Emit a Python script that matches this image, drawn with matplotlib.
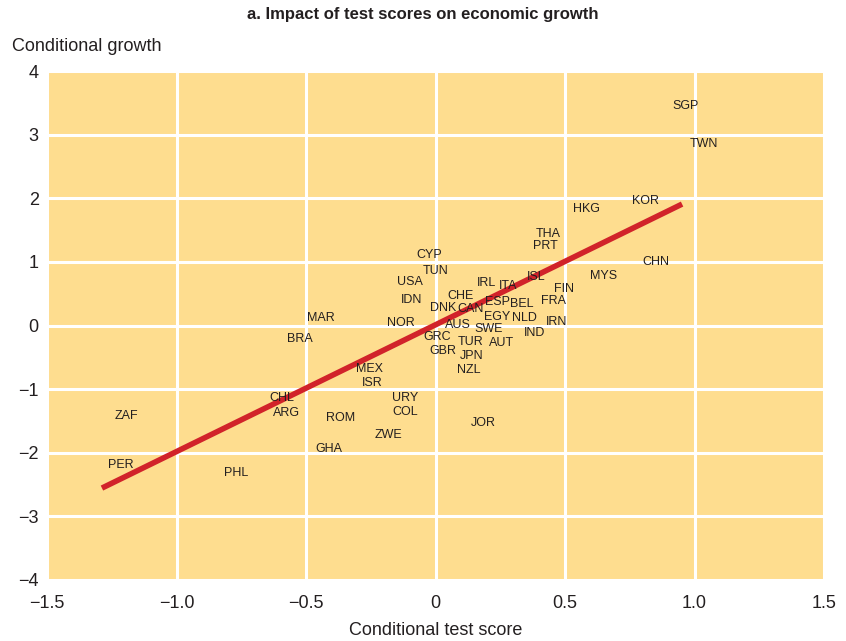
import matplotlib
matplotlib.use("Agg")
import matplotlib.pyplot as plt

# country codes and their (test score, growth) positions
codes = ["SGP", "TWN", "KOR", "HKG", "CHN", "THA", "PRT", "MYS", "ISL", "FIN",
         "FRA", "IRN", "CYP", "TUN", "USA", "IDN", "IRL", "ITA", "CHE", "DNK",
         "CAN", "ESP", "BEL", "EGY", "NLD", "IND", "NOR", "AUS", "SWE", "GRC",
         "TUR", "AUT", "GBR", "JPN", "NZL", "MAR", "BRA", "MEX", "ISR", "CHL",
         "ARG", "URY", "COL", "ROM", "ZWE", "GHA", "JOR", "ZAF", "PER", "PHL"]
score = [0.967, 1.037, 0.809, 0.581, 0.851, 0.434, 0.423, 0.647, 0.388, 0.496,
         0.454, 0.469, -0.025, 0.002, -0.098, -0.091, 0.195, 0.280, 0.095, 0.029,
         0.137, 0.241, 0.334, 0.237, 0.342, 0.384, -0.133, 0.087, 0.203, 0.006,
         0.137, 0.253, 0.029, 0.141, 0.129, -0.442, -0.523, -0.253, -0.245, -0.593,
         -0.577, -0.118, -0.118, -0.365, -0.180, -0.411, 0.183, -1.195, -1.214, -0.770]
growth = [3.45, 2.86, 1.96, 1.83, 1.00, 1.44, 1.25, 0.78, 0.76, 0.57,
          0.38, 0.055, 1.11, 0.86, 0.68, 0.40, 0.67, 0.62, 0.46, 0.28,
          0.26, 0.37, 0.34, 0.13, 0.12, -0.12, 0.04, 0.01, -0.06, -0.18,
          -0.26, -0.28, -0.40, -0.48, -0.70, 0.12, -0.21, -0.68, -0.90, -1.14,
          -1.38, -1.14, -1.36, -1.45, -1.72, -1.94, -1.53, -1.42, -2.19, -2.32]

# fitted line endpoints
fit_x = [-1.288, 0.952]
fit_y = [-2.555, 1.91]

xticks = [-1.5, -1.0, -0.5, 0, 0.5, 1.0, 1.5]
xticklabels = ["\u22121.5", "\u22121.0", "\u22120.5", "0", "0.5", "1.0", "1.5"]
yticks = [-4, -3, -2, -1, 0, 1, 2, 3, 4]
yticklabels = ["\u22124", "\u22123", "\u22122", "\u22121", "0", "1", "2", "3", "4"]

plt.rcParams["font.family"] = ["Liberation Sans", "DejaVu Sans"]

fig = plt.figure(figsize=(8.46, 6.41), dpi=100)
ax = fig.add_axes([0.0556, 0.0952, 0.9184, 0.7938])
ax.set_facecolor("#FEDD8F")
ax.set_xlim(-1.5, 1.5)
ax.set_ylim(-4, 4)
ax.set_xticks(xticks)
ax.set_xticklabels(xticklabels)
ax.set_yticks(yticks)
ax.set_yticklabels(yticklabels)
ax.tick_params(length=0, labelsize=13, labelcolor="#231F20")
ax.tick_params(axis="x", pad=11)
ax.tick_params(axis="y", pad=6)
ax.grid(True, color="white", linewidth=2.2)
ax.set_axisbelow(True)
for s in ax.spines.values():
    s.set_visible(False)

ax.plot(fit_x, fit_y, color="#D1232A", linewidth=4, solid_capstyle="butt", zorder=3)

for c, x, y in zip(codes, score, growth):
    ax.text(x, y, c, fontsize=9, color="#231F20", ha="center", va="center", zorder=4)

fig.text(0.5, 0.977, "a. Impact of test scores on economic growth",
         ha="center", va="center", fontsize=12, fontweight="bold", color="#231F20")
fig.text(0.014, 0.928, "Conditional growth", ha="left", va="center", fontsize=13,
         color="#231F20")
fig.text(0.515, 0.017, "Conditional test score", ha="center", va="center", fontsize=13,
         color="#231F20")

fig.savefig("out.png", dpi=100)
